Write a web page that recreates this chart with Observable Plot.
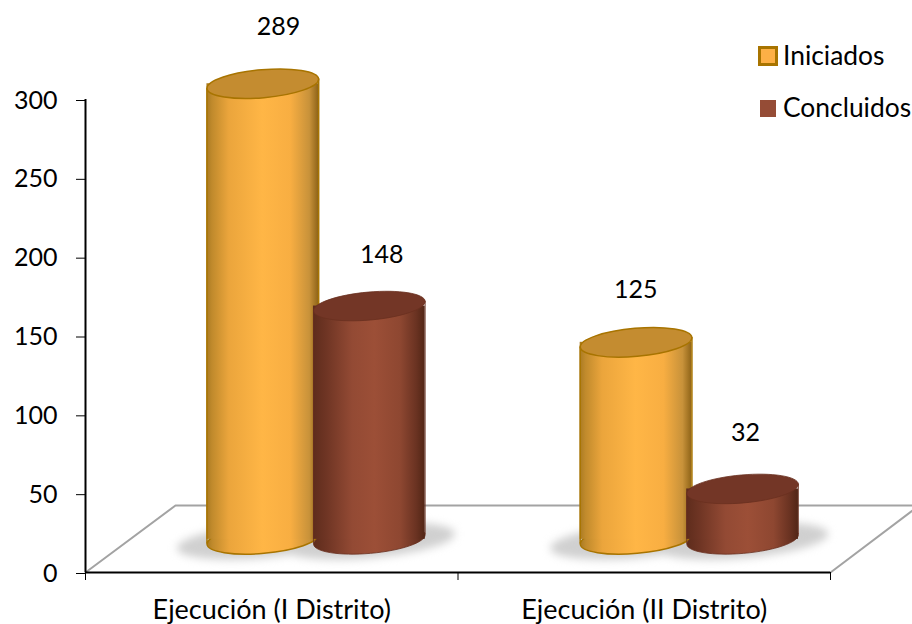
<!DOCTYPE html>
<html><head><meta charset="utf-8">
<script src="https://cdn.jsdelivr.net/npm/d3@7"></script>
<script src="https://cdn.jsdelivr.net/npm/@observablehq/plot@0.6"></script>
<style>
html,body{margin:0;padding:0;background:#fff;overflow:hidden}
#wrap{position:relative;width:912px;height:624px;overflow:hidden;font-family:Lato,sans-serif;color:#000}
.lg{position:absolute;font-size:26.4px;line-height:30px;white-space:nowrap}
.sw{position:absolute;box-sizing:border-box}
</style></head><body><div id="wrap"></div>
<script>
// data
const categories = ["Ejecución (I Distrito)", "Ejecución (II Distrito)"];
const seriesNames = ["Iniciados", "Concluidos"];
const iniciados = [289, 125];
const concluidos = [148, 32];
const yTicks = [0, 50, 100, 150, 200, 250, 300];

// layout, in scale units
const base = 21, barW = 0.3, tiltRise = 3;
const groupCenter = [0.476, 1.478];
const seriesStep = 0.286;
const labelX = [0.518, 0.795, 1.477, 1.772];
const labelRise = [36, 32.5, 33, 35.5];
const floorLeft = [{x:0,y:0},{x:0.2416,y:42.5},{x:2.22,y:42.5}];
const floorRight = [{x:2,y:0},{x:2.22,y:39.3}];

const rows = [];
categories.forEach((c,i)=>{
  rows.push({cat:c,name:seriesNames[0],v:iniciados[i],x:groupCenter[i]});
  rows.push({cat:c,name:seriesNames[1],v:concluidos[i],x:groupCenter[i]+seriesStep});
});
const ini = rows.filter(d=>d.name===seriesNames[0]);
const con = rows.filter(d=>d.name===seriesNames[1]);
const labels = rows.map((d,i)=>({t:d.v,x:labelX[i],y:base+d.v+labelRise[i]}));

function ellipseSymbol(rx,ry,deg){
  const a=deg*Math.PI/180,c=Math.cos(a),s=Math.sin(a),k=0.5522847;
  const P=(u,v)=>[u*rx*c-v*ry*s,u*rx*s+v*ry*c];
  return {draw(ctx){
    ctx.moveTo(...P(1,0));
    ctx.bezierCurveTo(...P(1,k),...P(k,1),...P(0,1));
    ctx.bezierCurveTo(...P(-k,1),...P(-1,k),...P(-1,0));
    ctx.bezierCurveTo(...P(-1,-k),...P(-k,-1),...P(0,-1));
    ctx.bezierCurveTo(...P(k,-1),...P(1,-k),...P(1,0));
    ctx.closePath();
  }};
}
const rim = ellipseSymbol(56,14,-5);
const shade = ellipseSymbol(86,17,-5);

function defs(){
  const d=d3.create("svg:defs");
  const g=(id,stops)=>{
    const l=d.append("linearGradient").attr("id",id).attr("x1",0).attr("x2",1).attr("y1",0).attr("y2",0);
    stops.forEach(([o,c])=>l.append("stop").attr("offset",o).attr("stop-color",c));
  };
  g("orangeBody",[[0,"#a97a22"],[0.05,"#c08a2c"],[0.2,"#eba53c"],[0.5,"#ffb646"],[0.75,"#f8ae42"],[0.92,"#c8923a"],[1,"#8f6418"]]);
  g("brownBody",[[0,"#5e2c1c"],[0.12,"#6f3524"],[0.35,"#934a34"],[0.55,"#9c4f37"],[0.78,"#8e4731"],[0.92,"#6b3322"],[1,"#522616"]]);
  return d.node();
}

function cylinders(data,body,top,stroke,sw){
  return [
    Plot.dot(data,{x:"x",y:base,r:5,symbol:rim,fill:`url(#${body})`,stroke:stroke,strokeWidth:sw}),
    Plot.rect(data,{x1:d=>d.x-barW/2,x2:d=>d.x+barW/2,y1:base,y2:d=>base+d.v,fill:`url(#${body})`}),
    Plot.ruleX(data,{x:d=>d.x-barW/2,y1:base-tiltRise,y2:d=>base+d.v-tiltRise,stroke:stroke,strokeWidth:sw}),
    Plot.ruleX(data,{x:d=>d.x+barW/2,y1:base+tiltRise,y2:d=>base+d.v+tiltRise,stroke:stroke,strokeWidth:sw}),
    Plot.dot(data,{x:"x",y:d=>base+d.v,r:5,symbol:rim,fill:top,stroke:stroke,strokeWidth:sw})
  ];
}

const chart = Plot.plot({
  width:912,height:624,
  marginLeft:85,marginRight:82,marginTop:99,marginBottom:52,
  style:{fontFamily:"Lato, sans-serif",background:"#fff",color:"#000",overflow:"visible"},
  x:{domain:[0,2],axis:null},
  y:{domain:[0,300],axis:null},
  marks:[
    defs,
    Plot.line(floorLeft,{x:"x",y:"y",stroke:"#a3a3a3",strokeWidth:2}),
    Plot.line(floorRight,{x:"x",y:"y",stroke:"#a3a3a3",strokeWidth:2}),
    Plot.dot(rows,{x:"x",y:base-1,r:5,symbol:shade,fill:"#d0d0d0",imageFilter:"blur(4px)"}),
    Plot.axisY({ticks:yTicks,label:null,tickSize:9,tickPadding:19,fontSize:25,dy:1,stroke:"#000",fill:"#000",strokeOpacity:1,tickFormat:d=>String(d)}),
    Plot.axisX({ticks:[0,1,2],label:null,tickSize:8,tickFormat:()=>"",stroke:"#000",strokeOpacity:1}),
    Plot.axisX({ticks:[0.5,1.5],label:null,tickSize:0,tickPadding:27,fontSize:27,fill:"#000",tickFormat:(d,i)=>categories[i]}),
    Plot.ruleX([0],{stroke:"#000",strokeWidth:2}),
    Plot.ruleY([0],{stroke:"#000",strokeWidth:2}),
    ...cylinders(ini,"orangeBody","#c48c30","#a87400",1.5),
    ...cylinders(con,"brownBody","#733626","#6a3020",0.8),
    Plot.text(labels,{x:"x",y:"y",text:d=>String(d.t),fontSize:25,fill:"#000"})
  ]
});
const wrap=document.getElementById("wrap");
wrap.appendChild(chart);

const add=(cls,css,txt)=>{const e=document.createElement("div");e.className=cls;e.style.cssText=css;if(txt)e.textContent=txt;wrap.appendChild(e);};
add("sw","left:758px;top:46px;width:20px;height:20px;background:#fdb046;border:3px solid #a87400");
add("lg","left:783px;top:40px",seriesNames[0]);
add("sw","left:760px;top:100px;width:16px;height:17px;background:#954c36");
add("lg","left:783px;top:92px",seriesNames[1]);
</script></body></html>
